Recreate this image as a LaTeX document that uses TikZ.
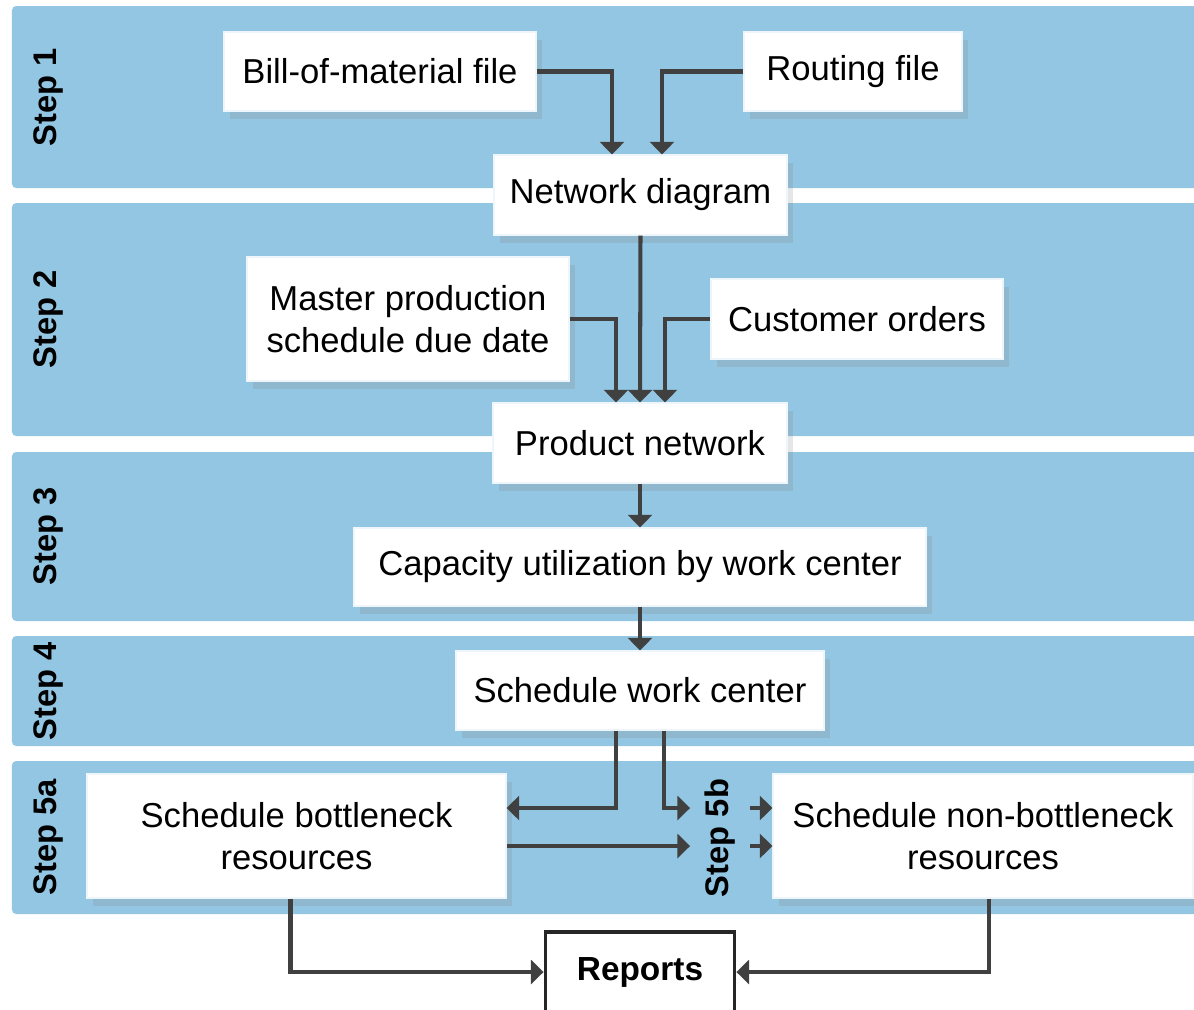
\documentclass[tikz,border=0pt]{standalone}
\usepackage{fontspec}
\setmainfont{Liberation Sans}
\usetikzlibrary{arrows.meta,shadows}

\definecolor{bandblue}{RGB}{147,198,226}
\definecolor{linegray}{RGB}{64,64,64}

\begin{document}
\begin{tikzpicture}[>={Triangle[width=6.8pt,length=3.6pt]},scale=1.0]
  \tikzset{
    band/.style={fill=bandblue,rounded corners=1.2pt},
    steptag/.style={rotate=90,inner sep=0pt,
      font=\fontsize{9.3}{11}\selectfont\bfseries},
    box/.style={fill=white,draw=white!85!bandblue,line width=0.3pt,
      align=center,inner sep=0pt,font=\fontsize{9.85}{11.95}\selectfont,
      drop shadow={shadow xshift=0.6mm,shadow yshift=-0.8mm,opacity=0.2}},
    reportbox/.style={fill=white,draw=black!85,line width=1.1pt,inner sep=0pt,
      minimum width=1.89cm,minimum height=0.8cm,
      font=\fontsize{9.5}{11}\selectfont\bfseries},
    flow/.style={->,draw=linegray,line width=1.15pt}
  }
  \useasboundingbox (0,0) rectangle (11.94,-10.09);
  \clip (0,0) rectangle (11.94,-10.09);

  % step bands
  \fill[band] (0.12,-0.06) rectangle (12.2,-1.88);
  \fill[band] (0.12,-2.03) rectangle (12.2,-4.36);
  \fill[band] (0.12,-4.52) rectangle (12.2,-6.21);
  \fill[band] (0.12,-6.36) rectangle (12.2,-7.46);
  \fill[band] (0.12,-7.61) rectangle (12.2,-9.14);

  \node[steptag] (s1) at (0.485,-0.97) {Step 1};
  \node[steptag] (s2) at (0.485,-3.195) {Step 2};
  \node[steptag] (s3) at (0.485,-5.365) {Step 3};
  \node[steptag] (s4) at (0.485,-6.91) {Step 4};
  \node[steptag] (s5a) at (0.485,-8.375) {Step 5a};
  \node[steptag,inner sep=0.14cm] (s5b) at (7.20,-8.38) {Step 5b};

  % boxes
  \node[box,minimum width=3.12cm,minimum height=0.79cm] (bom)
    at (3.80,-0.715) {Bill-of-material file};
  \node[box,minimum width=2.18cm,minimum height=0.79cm] (routing)
    at (8.53,-0.715) {Routing file};
  \node[box,minimum width=2.93cm,minimum height=0.80cm] (netdiag)
    at (6.405,-1.95) {Network diagram};
  \node[box,minimum width=3.22cm,minimum height=1.24cm] (mps)
    at (4.08,-3.19) {Master production\\schedule due date};
  \node[box,minimum width=2.92cm,minimum height=0.80cm] (orders)
    at (8.57,-3.19) {Customer orders};
  \node[box,minimum width=2.94cm,minimum height=0.80cm] (prodnet)
    at (6.40,-4.43) {Product network};
  \node[box,minimum width=5.72cm,minimum height=0.78cm] (capacity)
    at (6.40,-5.67) {Capacity utilization by work center};
  \node[box,minimum width=3.68cm,minimum height=0.79cm] (schedwc)
    at (6.40,-6.905) {Schedule work center};
  \node[box,minimum width=4.19cm,minimum height=1.24cm] (bottle)
    at (2.965,-8.36) {Schedule bottleneck\\resources};
  \node[box,minimum width=4.20cm,minimum height=1.24cm] (nonbottle)
    at (9.83,-8.36) {Schedule non-bottleneck\\resources};
  \node[reportbox] (reports) at (6.40,-9.72) {Reports};

  % rows of the step 5 arrows
  \coordinate (r1) at (0,-8.08);
  \coordinate (r2) at (0,-8.46);

  % connectors
  \draw[flow] (bom.east) -| ([xshift=-2.85mm]netdiag.north);
  \draw[flow] (routing.west) -| ([xshift=2.15mm]netdiag.north);
  \draw[flow] (netdiag.south) -- (prodnet.north);
  \draw[flow] (mps.east) -| ([xshift=-2.4mm]prodnet.north);
  \draw[flow] (orders.west) -| ([xshift=2.5mm]prodnet.north);
  \draw[flow] (prodnet.south) -- (capacity.north);
  \draw[flow] (capacity.south) -- (schedwc.north);
  \draw[flow] ([xshift=-2.4mm]schedwc.south) |- (bottle.east |- r1);
  \draw[flow] ([xshift=2.4mm]schedwc.south) |- (s5b.north |- r1);
  \draw[flow] (bottle.east |- r2) -- (s5b.north |- r2);
  \draw[flow] (s5b.south |- r1) -- (nonbottle.west |- r1);
  \draw[flow] (s5b.south |- r2) -- (nonbottle.west |- r2);
  \draw[flow] ([xshift=-0.6mm]bottle.south) |- (reports.west);
  \draw[flow] ([xshift=0.6mm]nonbottle.south) |- (reports.east);
\end{tikzpicture}
\end{document}
